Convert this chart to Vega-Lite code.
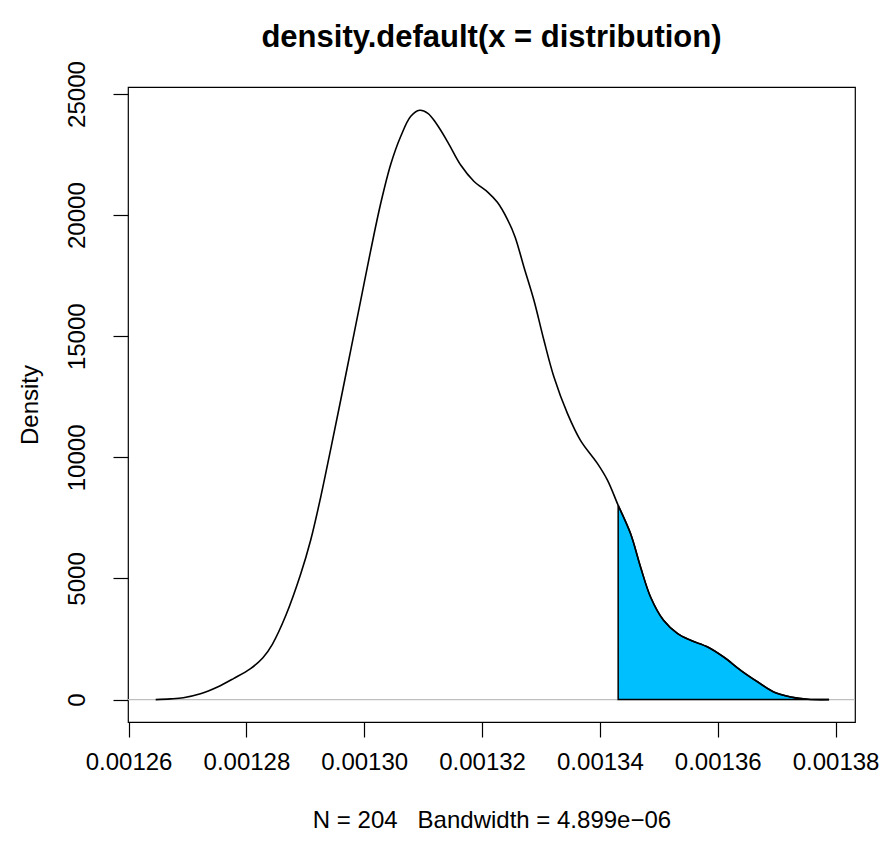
{
  "$schema": "https://vega.github.io/schema/vega-lite/v6.json",
  "autosize": {"type": "none"},
  "width": 727,
  "height": 635,
  "padding": {"left": 128, "top": 87, "right": 29, "bottom": 121},
  "background": "white",
  "config": {
    "view": {"stroke": "#000000", "strokeWidth": 1.2},
    "font": "Liberation Sans"
  },
  "title": {
    "text": "density.default(x = distribution)",
    "font": "Liberation Sans",
    "fontSize": 31,
    "fontWeight": "bold",
    "color": "#000000",
    "anchor": "middle",
    "frame": "group",
    "baseline": "bottom",
    "offset": -24
  },
  "data": {
    "values": [
      {"x": 0.0012646, "density": 0},
      {"x": 0.0012671, "density": 29},
      {"x": 0.0012693, "density": 78},
      {"x": 0.0012722, "density": 239},
      {"x": 0.0012751, "density": 520},
      {"x": 0.0012778, "density": 867},
      {"x": 0.0012807, "density": 1280},
      {"x": 0.0012828, "density": 1726},
      {"x": 0.0012844, "density": 2283},
      {"x": 0.0012867, "density": 3480},
      {"x": 0.0012892, "density": 5173},
      {"x": 0.0012909, "density": 6576},
      {"x": 0.0012926, "density": 8351},
      {"x": 0.0012943, "density": 10333},
      {"x": 0.001296, "density": 12356},
      {"x": 0.0012977, "density": 14420},
      {"x": 0.0012994, "density": 16484},
      {"x": 0.0013011, "density": 18548},
      {"x": 0.0013028, "density": 20488},
      {"x": 0.0013045, "density": 22098},
      {"x": 0.0013062, "density": 23254},
      {"x": 0.0013079, "density": 24079},
      {"x": 0.0013094, "density": 24327},
      {"x": 0.0013108, "density": 24203},
      {"x": 0.0013122, "density": 23790},
      {"x": 0.0013142, "density": 23006},
      {"x": 0.0013164, "density": 22056},
      {"x": 0.0013186, "density": 21400},
      {"x": 0.001321, "density": 20942},
      {"x": 0.0013226, "density": 20529},
      {"x": 0.0013243, "density": 19827},
      {"x": 0.0013256, "density": 19100},
      {"x": 0.0013271, "density": 17858},
      {"x": 0.0013288, "density": 16484},
      {"x": 0.0013305, "density": 14832},
      {"x": 0.0013322, "density": 13317},
      {"x": 0.0013345, "density": 11806},
      {"x": 0.0013367, "density": 10704},
      {"x": 0.0013396, "density": 9742},
      {"x": 0.0013413, "density": 9053},
      {"x": 0.0013431, "density": 8021},
      {"x": 0.0013452, "density": 6853},
      {"x": 0.0013469, "density": 5474},
      {"x": 0.0013486, "density": 4236},
      {"x": 0.0013508, "density": 3274},
      {"x": 0.0013532, "density": 2725},
      {"x": 0.0013554, "density": 2448},
      {"x": 0.0013583, "density": 2171},
      {"x": 0.001361, "density": 1759},
      {"x": 0.0013639, "density": 1210},
      {"x": 0.0013668, "density": 727},
      {"x": 0.0013695, "density": 314},
      {"x": 0.0013724, "density": 107},
      {"x": 0.0013753, "density": 12},
      {"x": 0.0013789, "density": 0}
    ]
  },
  "encoding": {
    "x": {
      "field": "x",
      "type": "quantitative",
      "scale": {"domain": [0.0012599, 0.0013833], "nice": false, "zero": false},
      "axis": {
        "values": [0.00126, 0.00128, 0.0013, 0.00132, 0.00134, 0.00136, 0.00138],
        "format": ".5f",
        "domain": false,
        "grid": false,
        "ticks": true,
        "tickSize": 15,
        "tickColor": "#000000",
        "tickWidth": 1.2,
        "labelFont": "Liberation Sans",
        "labelFontSize": 24,
        "labelColor": "#000000",
        "labelPadding": 13,
        "labelFlush": false,
        "labelOverlap": false,
        "labelBound": false,
        "title": "N = 204\u00a0\u00a0 Bandwidth = 4.899e\u221206",
        "titleFont": "Liberation Sans",
        "titleFontSize": 24,
        "titleFontWeight": "normal",
        "titleColor": "#000000",
        "titlePadding": 34
      }
    },
    "y": {
      "field": "density",
      "type": "quantitative",
      "scale": {"domain": [-925, 25289], "nice": false, "zero": false},
      "axis": {
        "values": [0, 5000, 10000, 15000, 20000, 25000],
        "format": "d",
        "domain": false,
        "grid": false,
        "tickSize": 15,
        "tickColor": "#000000",
        "tickWidth": 1.2,
        "labelFont": "Liberation Sans",
        "labelFontSize": 24,
        "labelColor": "#000000",
        "labelAngle": -90,
        "labelAlign": "center",
        "labelBaseline": "alphabetic",
        "labelPadding": 29,
        "labelFlush": false,
        "labelOverlap": false,
        "labelBound": false,
        "title": "Density",
        "titleFont": "Liberation Sans",
        "titleFontSize": 24,
        "titleFontWeight": "normal",
        "titleColor": "#000000",
        "titlePadding": 23
      }
    }
  },
  "layer": [
    {
      "data": {"values": [{"zero": 0}]},
      "mark": {"type": "rule", "color": "#BEBEBE", "strokeWidth": 1.2},
      "encoding": {"x": null, "y": {"field": "zero", "type": "quantitative"}}
    },
    {
      "transform": [{"filter": "datum.x >= 0.0013431"}],
      "mark": {"type": "area", "fill": "#00BFFF", "stroke": "#000000", "strokeWidth": 1.5, "fillOpacity": 1, "interpolate": "catmull-rom"},
      "encoding": {"y2": {"datum": 0}}
    },
    {
      "mark": {"type": "line", "color": "#000000", "strokeWidth": 1.6, "interpolate": "catmull-rom"}
    }
  ]
}
